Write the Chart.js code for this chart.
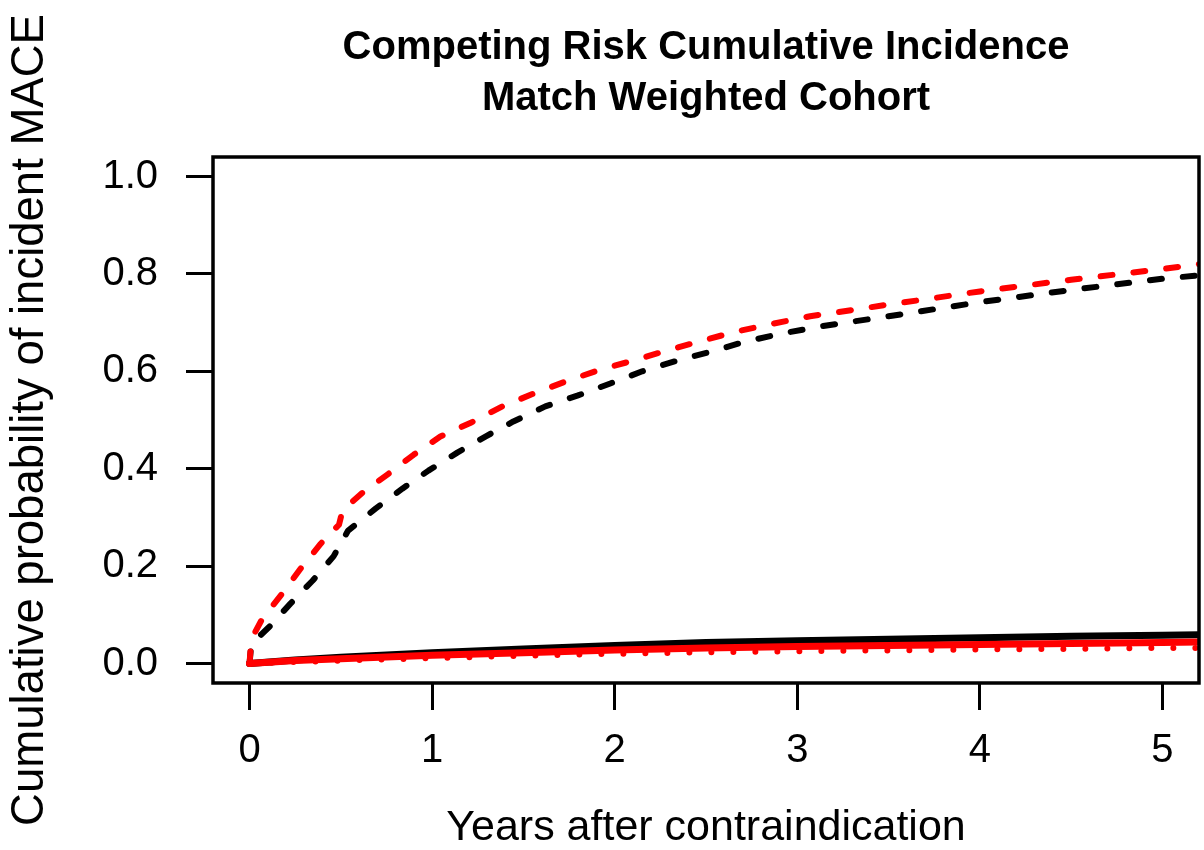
<!DOCTYPE html>
<html>
<head>
<meta charset="utf-8">
<script src="https://cdn.jsdelivr.net/npm/chart.js@4"></script>
<style>
  html, body { margin: 0; padding: 0; background: #fff; }
  #wrap { width: 1204px; height: 850px; }
</style>
</head>
<body>
<div id="wrap"><canvas id="cifChart" width="1204" height="850"></canvas></div>
<script>
// Years after contraindication / cumulative incidence
const redDashT = [0, 0.01, 0.07, 0.18, 0.28, 0.39, 0.49, 0.51, 0.62, 0.755, 0.9, 1.045, 1.215, 1.385, 1.554, 1.73, 1.91, 2.1, 2.29, 2.48, 2.67, 2.87, 3.07, 3.5, 4.0, 4.5, 5.0, 5.2];
const redDashV = [0, 0.05, 0.092, 0.144, 0.195, 0.246, 0.285, 0.315, 0.351, 0.388, 0.429, 0.466, 0.495, 0.528, 0.554, 0.579, 0.602, 0.622, 0.643, 0.663, 0.682, 0.698, 0.713, 0.737, 0.764, 0.788, 0.81, 0.82];

const blackDashT = [0, 0.01, 0.11, 0.224, 0.345, 0.46, 0.54, 0.69, 0.837, 0.98, 1.138, 1.292, 1.445, 1.62, 1.795, 1.976, 2.151, 2.343, 2.534, 2.715, 2.923, 3.125, 3.5, 4.0, 4.5, 5.0, 5.2];
const blackDashV = [0, 0.04, 0.076, 0.123, 0.17, 0.22, 0.273, 0.318, 0.359, 0.396, 0.433, 0.466, 0.497, 0.528, 0.55, 0.575, 0.6, 0.622, 0.641, 0.661, 0.678, 0.692, 0.713, 0.742, 0.767, 0.79, 0.797];

const solidT = [0, 0.25, 0.5, 1, 1.5, 2, 2.5, 3, 3.5, 4, 4.5, 5, 5.2];
const blackSolidV = [0, 0.007, 0.013, 0.022, 0.03, 0.037, 0.043, 0.047, 0.05, 0.053, 0.056, 0.058, 0.059];
const redSolidV = [0, 0.006, 0.01, 0.017, 0.022, 0.028, 0.032, 0.035, 0.037, 0.039, 0.041, 0.043, 0.044];
const redDotV = [0, 0.003, 0.006, 0.011, 0.016, 0.02, 0.023, 0.025, 0.027, 0.029, 0.03, 0.032, 0.032];

const xTicks = [0, 1, 2, 3, 4, 5];
const yTicks = [0, 0.2, 0.4, 0.6, 0.8, 1.0];

const pts = (t, v) => t.map((x, i) => ({ x: x, y: v[i] }));

// R style box round the plot region
const boxPlugin = {
    id: 'box',
    afterDatasetsDraw(chart) {
        const a = chart.chartArea;
        const c = chart.ctx;
        c.save();
        c.strokeStyle = '#000';
        c.lineWidth = 3.5;
        c.strokeRect(a.left, a.top, a.right - a.left, a.bottom - a.top);
        c.restore();
    }
};

const ctx = document.getElementById('cifChart').getContext('2d');

new Chart(ctx, {
    type: 'line',
    data: {
        datasets: [
            { data: pts(solidT, redSolidV), borderColor: '#ff0000', borderWidth: 7 },
            { data: pts(solidT, redDotV), borderColor: '#ff0000', borderWidth: 6, borderDash: [0, 22] },
            { data: pts(redDashT, redDashV), borderColor: '#ff0000', borderWidth: 6, borderDash: [12, 21] },
            { data: pts(solidT, blackSolidV), borderColor: '#000000', borderWidth: 7 },
            { data: pts(blackDashT, blackDashV), borderColor: '#000000', borderWidth: 6, borderDash: [12, 21] }
        ].map(d => Object.assign(d, { pointRadius: 0, fill: false, tension: 0, borderCapStyle: 'round', borderJoinStyle: 'round' }))
    },
    options: {
        responsive: false,
        animation: false,
        layout: { padding: { left: 0, right: 5, top: 0, bottom: 0 } },
        plugins: {
            legend: { display: false },
            tooltip: { enabled: false },
            title: {
                display: true,
                fullSize: false,
                text: ['Competing Risk Cumulative Incidence', 'Match Weighted Cohort'],
                color: '#000',
                font: { family: 'Liberation Sans, Arial', size: 40, weight: 'bold', lineHeight: 1.275 },
                padding: { top: 22.5, bottom: 32.5 }
            }
        },
        scales: {
            x: {
                type: 'linear',
                min: -0.2,
                max: 5.2,
                afterBuildTicks: s => { s.ticks = xTicks.map(v => ({ value: v })); },
                afterFit: s => { s.height = 167; },
                border: { display: false },
                grid: { drawOnChartArea: false, drawTicks: true, tickLength: 27, color: '#000', lineWidth: 3 },
                ticks: {
                    color: '#000',
                    padding: 17,
                    font: { family: 'Liberation Sans, Arial', size: 40 },
                    callback: v => String(v)
                },
                title: {
                    display: true,
                    text: 'Years after contraindication',
                    color: '#000',
                    font: { family: 'Liberation Sans, Arial', size: 43, lineHeight: 1 },
                    padding: { top: 0, bottom: 0 }
                }
            },
            y: {
                type: 'linear',
                min: -0.04,
                max: 1.04,
                afterBuildTicks: s => { s.ticks = yTicks.map(v => ({ value: v })); },
                afterFit: s => { s.width = 213; },
                border: { display: false },
                grid: { drawOnChartArea: false, drawTicks: true, tickLength: 27, color: '#000', lineWidth: 3 },
                ticks: {
                    color: '#000',
                    padding: 28,
                    font: { family: 'Liberation Sans, Arial', size: 40 },
                    callback: v => v.toFixed(1)
                },
                title: {
                    display: true,
                    text: 'Cumulative probability of incident MACE',
                    color: '#000',
                    font: { family: 'Liberation Sans, Arial', size: 45.5, lineHeight: 1.2 },
                    padding: { top: 3, bottom: 0 }
                }
            }
        }
    },
    plugins: [boxPlugin]
});
</script>
</body>
</html>
